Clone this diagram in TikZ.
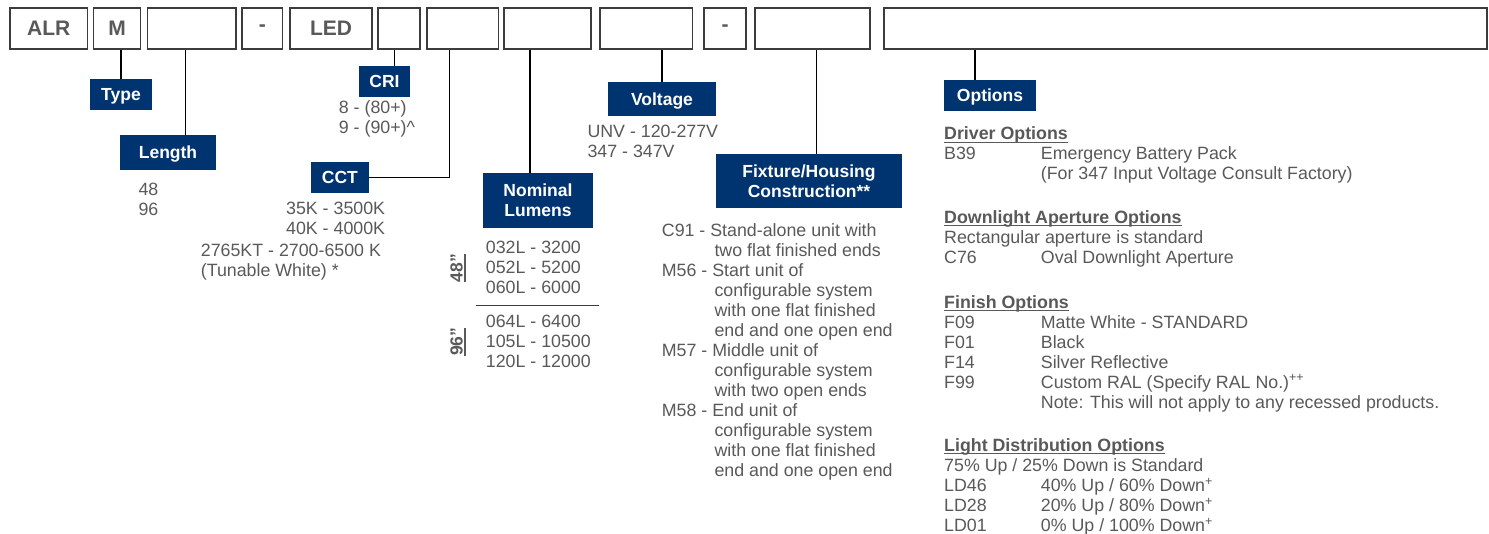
\documentclass[tikz,border=0pt]{standalone}
\usepackage{fontspec}
\setmainfont{Liberation Sans}
\definecolor{navy}{RGB}{0,52,113}
\definecolor{tgray}{RGB}{89,89,89}
\definecolor{bgray}{RGB}{60,60,60}
\newcommand\indnt{\hspace*{52.6pt}}
\newcommand\codecol[1]{\makebox[96.7pt][l]{#1}}
\newsavebox\ulsave
\newcommand\myul[1]{\sbox\ulsave{#1}\rlap{\rule[-3pt]{\wd\ulsave}{1.2pt}}\usebox\ulsave}
\newcommand\hdr[1]{\myul{\bfseries #1}}
\begin{document}
\begin{tikzpicture}[x=1pt,y=-1pt,
  topbox/.style={draw=bgray, line width=1.6pt, inner sep=0, minimum height=41pt, font=\fontsize{21}{24}\selectfont\bfseries, text=tgray},
  lbl/.style={fill=navy, text=white, inner sep=0, font=\fontsize{17.5}{20}\selectfont\bfseries, align=center},
  lbl1/.style={lbl, text height=12.5pt, text depth=0pt},
  txt/.style={inner sep=0, anchor=north west, align=left, text=tgray, font=\fontsize{17.8}{20}\selectfont},
  rot/.style={inner sep=0, rotate=90, anchor=base, text=tgray, font=\fontsize{17.5}{20}\selectfont\bfseries},
  conn/.style={draw=black, line width=1.3pt}
]
\fill[white] (0,0) rectangle (1489,533);
\useasboundingbox (0,0) rectangle (1489,533);

% top row
\node[topbox, minimum width=77.4pt] (b1) at (48.8,28.25) {ALR};
\node[topbox, minimum width=47pt] (b2) at (117,28.25) {M};
\node[topbox, minimum width=88.4pt] (b3) at (191.7,28.25) {};
\node[topbox, minimum width=40.4pt] (b4) at (262.3,28.25) {-};
\node[topbox, minimum width=81.8pt] (b5) at (331,28.25) {LED};
\node[topbox, minimum width=41.8pt] (b6) at (399,28.25) {};
\node[topbox, minimum width=71.7pt] (b7) at (462.65,28.25) {};
\node[topbox, minimum width=86.8pt] (b8) at (547.5,28.25) {};
\node[topbox, minimum width=92.4pt] (b9) at (646.3,28.25) {};
\node[topbox, minimum width=41.8pt] (b10) at (725,28.25) {-};
\node[topbox, minimum width=114.8pt] (b11) at (812.5,28.25) {};
\node[topbox, minimum width=602.6pt] (b12) at (1185.4,28.25) {};

% labels
\node[lbl1, minimum width=62pt, minimum height=31pt] (type) at (121,94.5) {Type};
\node[lbl1, minimum width=96pt, minimum height=35pt] (length) at (168,152.5) {Length};
\node[lbl1, minimum width=51pt, minimum height=30.7pt] (cri) at (384.5,81.35) {CRI};
\node[lbl1, minimum width=57.7pt, minimum height=30.7pt] (cct) at (339.85,177.35) {CCT};
\node[lbl, minimum width=110pt, minimum height=54.4pt] (lumens) at (538,200.5) {Nominal\\Lumens};
\node[lbl1, minimum width=108pt, minimum height=33.7pt] (voltage) at (662,98.85) {Voltage};
\node[lbl, minimum width=186pt, minimum height=54.3pt] (fixture) at (809,181.15) {Fixture/Housing\\Construction**};
\node[lbl1, minimum width=92pt, minimum height=30.7pt] (options) at (990,95.35) {Options};

% connectors
\draw[conn] (type.north) -- (type.north |- b2.south);
\draw[conn] ([xshift=17.3pt]length.north) -- ([xshift=17.3pt]length.north |- b3.south);
\draw[conn] ([xshift=9.8pt]cri.north) -- ([xshift=9.8pt]cri.north |- b6.south);
\draw[conn] (cct.east) -| ([xshift=-13.35pt]b7.south);
\draw[conn] ([xshift=-8pt]lumens.north) -- ([xshift=-8pt]lumens.north |- b8.south);
\draw[conn] (voltage.north) -- (voltage.north |- b9.south);
\draw[conn] ([xshift=7.7pt]fixture.north) -- ([xshift=7.7pt]fixture.north |- b11.south);
\draw[conn] ([xshift=-15pt]options.north) -- ([xshift=-15pt]options.north |- b12.south);

% values
\node[txt] (lenv) at (138.3,181.2) {\strut 48\\96};
\node[txt] (criv) at (338.7,98.9) {\strut 8 - (80+)\\9 - (90+)\textasciicircum};
\node[txt, anchor=north east, align=right] (cctv1) at (385.3,200.5) {\strut 35K - 3500K\\40K - 4000K};
\node[txt] (cctv2) at (200.7,242.2) {\strut 2765KT - 2700-6500 K\\(Tunable White) *};
\node[txt] (lum1) at (485.7,238.9) {\strut 032L - 3200\\052L - 5200\\060L - 6000};
\node[txt] (lum2) at (485.7,312.9) {\strut 064L - 6400\\105L - 10500\\120L - 12000};
\draw[draw=bgray, line width=1.4pt] (475.7,305.7) -- (599,305.7);
\node[rot] (l48) at (462.5,268) {\myul{48”}};
\node[rot] (l96) at (462.5,341.7) {\myul{96”}};
\node[txt] (volv) at (587.3,123.2) {\strut UNV - 120-277V\\347 - 347V};
\node[txt] (fixv) at (661.7,222.2) {\strut C91 - Stand-alone unit with\\\indnt two flat finished ends\\M56 - Start unit of\\\indnt configurable system\\\indnt with one flat finished\\\indnt end and one open end\\M57 - Middle unit of\\\indnt configurable system\\\indnt with two open ends\\M58 - End unit of\\\indnt configurable system\\\indnt with one flat finished\\\indnt end and one open end};

% options
\node[txt] (drv) at (944,125.5) {\strut\hdr{Driver Options}\\\codecol{B39}Emergency Battery Pack\\\codecol{}(For 347 Input Voltage Consult Factory)};
\node[txt] (dla) at (944,208.9) {\strut\hdr{Downlight Aperture Options}\\Rectangular aperture is standard\\\codecol{C76}Oval Downlight Aperture};
\node[txt] (fin) at (944,293.9) {\strut\hdr{Finish Options}\\\codecol{F09}Matte White - STANDARD\\\codecol{F01}Black\\\codecol{F14}Silver Reflective\\\codecol{F99}Custom RAL (Specify RAL No.)\textsuperscript{++}\\\codecol{}Note: This will not apply to any recessed products.};
\node[txt] (ld) at (944,437.2) {\strut\hdr{Light Distribution Options}\\75\% Up / 25\% Down is Standard\\\codecol{LD46}40\% Up / 60\% Down\textsuperscript{+}\\\codecol{LD28}20\% Up / 80\% Down\textsuperscript{+}\\\codecol{LD01}0\% Up / 100\% Down\textsuperscript{+}};
\end{tikzpicture}
\end{document}
